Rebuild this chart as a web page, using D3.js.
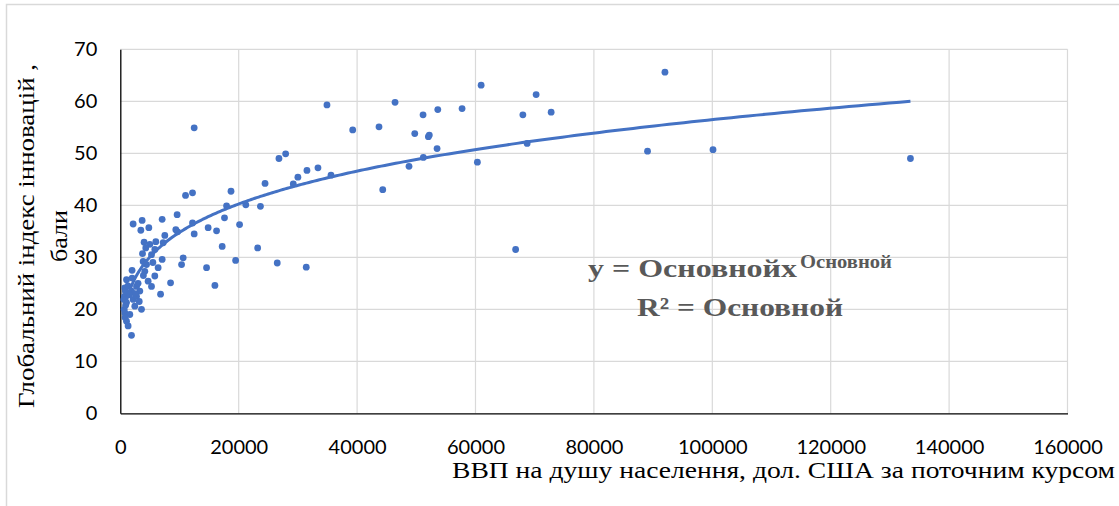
<!DOCTYPE html>
<html><head><meta charset="utf-8">
<script src="https://cdn.jsdelivr.net/npm/d3@7"></script>
<style>html,body{margin:0;padding:0;background:#fff;overflow:hidden}</style>
</head><body>
<svg id="c" width="1119" height="506"></svg>
<script>
// ---- data ----
const gdpPerCapita = [
  12480,26800,27930,24450,29220,30000,11020,12200,18700,17950,21200,23670,3690,7070,9600,17600,
  60950,34910,46410,51140,53630,57730,68000,39260,43700,49740,52040,52200,53510,51190,48770,60320,
  68720,31530,33390,35590,44330,20150,23200,19480,26510,31410,66780,70240,72780,92000,89060,100120,133470,
  2170,3470,4820,12200,9380,9670,7520,12480,14840,16260,4020,4990,5830,7240,3750,5270,7070,3860,
  17210,10620,10350,14570,1990,4140,4430,6390,5830,4700,5270,3300,8490,6800,1050,760,1890,700,2170,
  2740,1050,2450,3580,650,760,1610,800,1050,1320,1890,600,2740,15980,
  2000,3000,3900,5500,6000,2500,1500,900,3200,850,1300,4300
];
const innovationIndex = [
  54.9,49.0,49.9,44.2,44.1,45.4,41.9,42.4,42.7,39.9,40.1,39.8,37.1,37.3,38.2,37.6,
  63.1,59.3,59.8,57.4,58.4,58.6,57.4,54.5,55.1,53.8,53.2,53.5,50.9,49.2,47.5,48.3,
  51.9,46.7,47.2,45.8,43.0,36.3,31.8,29.4,28.9,28.1,31.5,61.3,57.9,65.6,50.4,50.7,49.0,
  36.4,35.2,35.7,36.6,35.3,34.9,34.2,34.5,35.7,35.1,32.9,32.5,31.5,32.8,30.7,30.5,29.6,29.2,
  32.1,29.9,28.6,28.0,27.5,27.3,28.6,28.0,26.4,25.4,24.4,23.5,25.1,22.9,25.7,24.1,23.5,22.5,21.9,
  22.5,21.3,20.6,20.0,20.0,19.3,19.0,18.4,17.7,16.8,15.0,21.9,24.4,24.6,
  26.0,25.0,26.5,29.0,33.0,23.0,22.8,20.8,21.5,23.5,24.5,31.8
];
const xTicks = [0,20000,40000,60000,80000,100000,120000,140000,160000];
const yTicks = [0,10,20,30,40,50,60,70];
const trendA = 5.01, trendB = 0.2104; // power trendline y = a*x^b
const xTitle = "ВВП на душу населення, дол. США за поточним курсом";
const yTitleLines = ["Глобальний індекс інновацій ,", "бали"];
const eqLine1Main = "y = Основнойx", eqLine1Sup = "Основной";
const eqLine2 = "R² = Основной";

// ---- drawing ----
const svg = d3.select("#c");
const L = 120.3, R = 1067.5, T = 49.3, B = 413.3;
const x = d3.scaleLinear().domain([0,160000]).range([L,R]);
const y = d3.scaleLinear().domain([0,70]).range([B,T]);
const blue = "#4472C4";
const serif = "'Liberation Serif', 'Times New Roman', serif";

// chart border
svg.append("rect").attr("x",6.5).attr("y",4.5).attr("width",1200).attr("height",600)
  .attr("fill","none").attr("stroke","#d9d9d9").attr("stroke-width",1.5);

// gridlines
svg.append("g").selectAll("line").data(yTicks.filter(d=>d>0)).join("line")
  .attr("x1",L).attr("x2",R).attr("y1",d=>y(d)).attr("y2",d=>y(d))
  .attr("stroke","#d9d9d9").attr("stroke-width",1.2);
svg.append("g").selectAll("line").data(xTicks.filter(d=>d>0)).join("line")
  .attr("x1",d=>x(d)).attr("x2",d=>x(d)).attr("y1",T).attr("y2",B)
  .attr("stroke","#d9d9d9").attr("stroke-width",1.2);

// axes
const xAxis = d3.axisBottom(x).tickValues(xTicks).tickSize(0).tickPadding(27).tickFormat(d=>String(d));
const gx = svg.append("g").attr("transform",`translate(0,${B})`).call(xAxis);
gx.select(".domain").attr("stroke","#000").attr("stroke-width",1.3);
const yAxis = d3.axisLeft(y).tickValues(yTicks).tickSize(0).tickPadding(23).tickFormat(d=>String(d));
const gy = svg.append("g").attr("transform",`translate(${L},0)`).call(yAxis);
gy.select(".domain").attr("stroke","#000").attr("stroke-width",1.3);
svg.selectAll(".tick text").attr("font-family","Lato, 'Open Sans', sans-serif").attr("font-size",20).attr("fill","#000");

// points
const pts = gdpPerCapita.map((v,i)=>[v,innovationIndex[i]]);
svg.append("g").selectAll("circle").data(pts).join("circle")
  .attr("cx",d=>x(d[0])).attr("cy",d=>y(d[1])).attr("r",3.4).attr("fill",blue);

// trendline
const xmin = d3.min(gdpPerCapita), xmax = d3.max(gdpPerCapita);
const tx = d3.range(0,401).map(i=>xmin*Math.pow(xmax/xmin,i/400));
svg.append("path").datum(tx)
  .attr("d",d3.line().x(d=>x(d)).y(d=>y(trendA*Math.pow(d,trendB))))
  .attr("fill","none").attr("stroke",blue).attr("stroke-width",3);

// equation
const eqStyle = s => s.attr("font-family",serif).attr("font-weight","bold").attr("fill","#595959")
  .attr("lengthAdjust","spacingAndGlyphs");
svg.append("text").attr("x",588).attr("y",277).attr("font-size",26).attr("textLength",209)
  .call(eqStyle).text(eqLine1Main);
svg.append("text").attr("x",800).attr("y",268).attr("font-size",18).attr("textLength",92)
  .call(eqStyle).text(eqLine1Sup);
svg.append("text").attr("x",637).attr("y",316).attr("font-size",26).attr("textLength",206)
  .call(eqStyle).text(eqLine2);

// axis titles
svg.append("text").attr("x",452).attr("y",478)
  .attr("font-family",serif).attr("font-size",24).attr("fill","#000")
  .attr("textLength",663).attr("lengthAdjust","spacingAndGlyphs").text(xTitle);
const yt = svg.append("g").attr("transform","translate(0,236) rotate(-90)");
yt.append("text").attr("x",-172).attr("y",34)
  .attr("font-family",serif).attr("font-size",24).attr("fill","#000")
  .attr("textLength",344).attr("lengthAdjust","spacingAndGlyphs").text(yTitleLines[0]);
yt.append("text").attr("x",-26).attr("y",67)
  .attr("font-family",serif).attr("font-size",24).attr("fill","#000")
  .attr("textLength",52).attr("lengthAdjust","spacingAndGlyphs").text(yTitleLines[1]);
</script>
</body></html>
